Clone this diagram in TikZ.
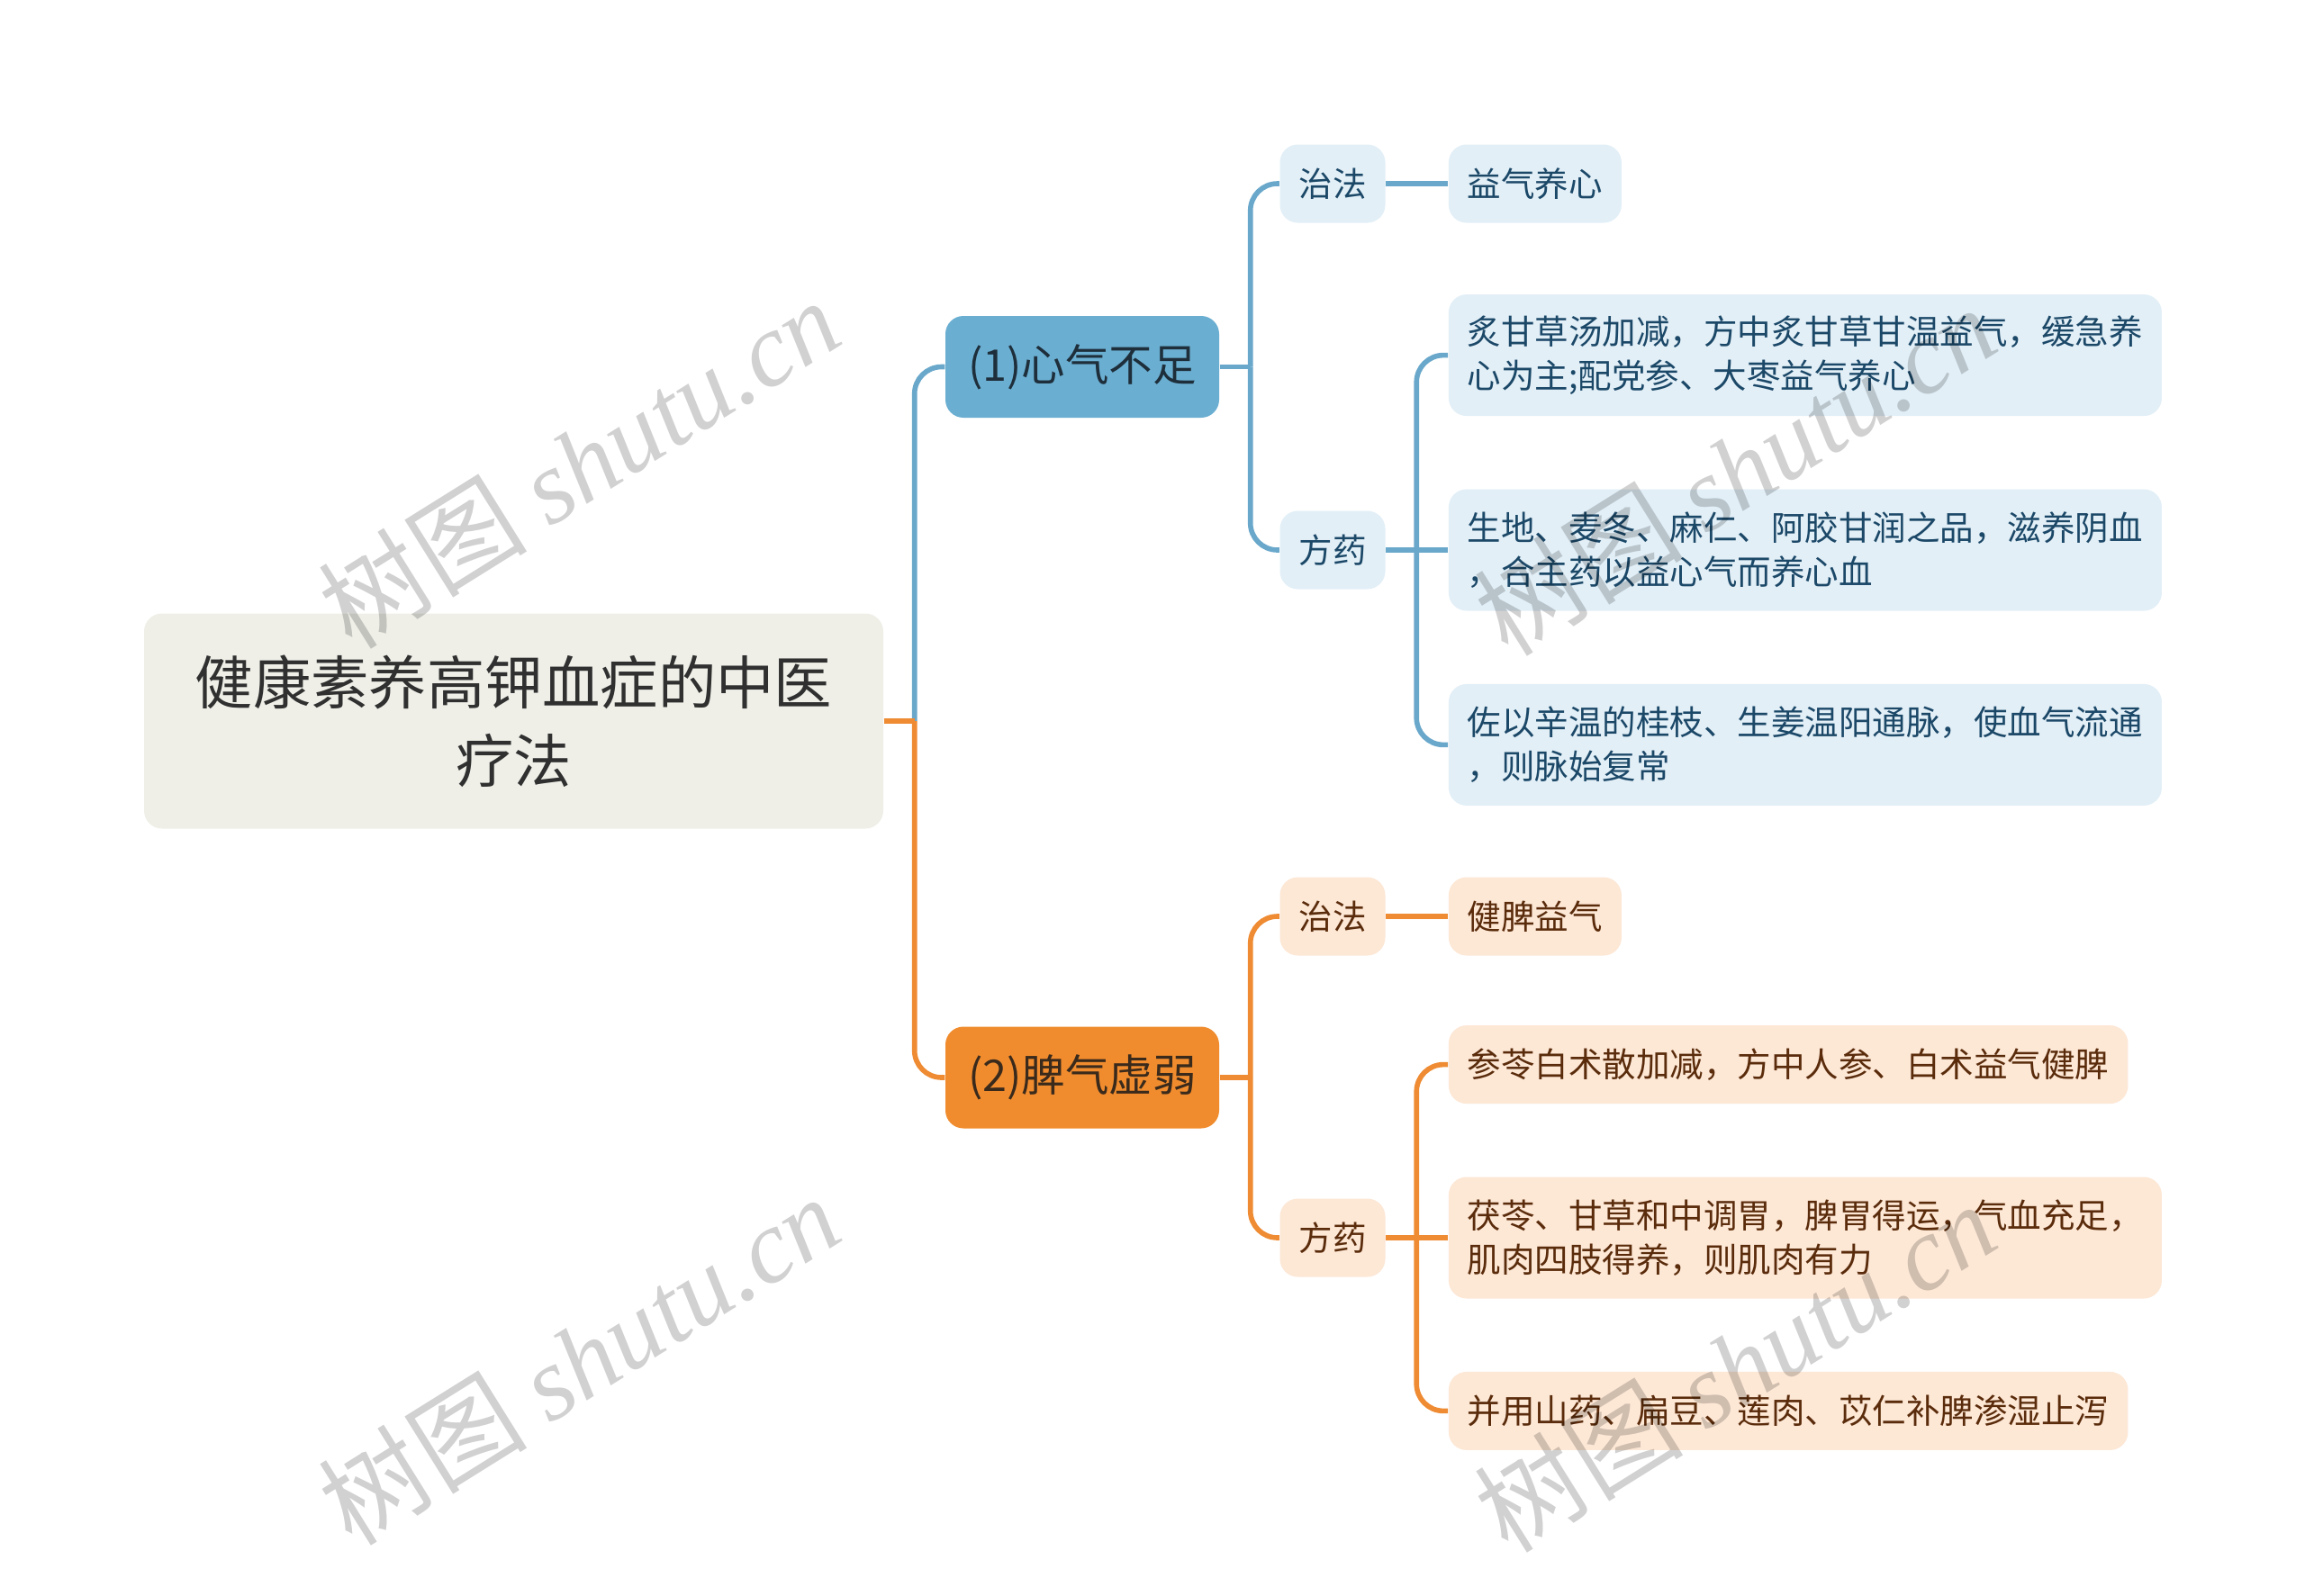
\documentclass[tikz,border=0pt]{standalone}
\usepackage{fontspec}
\setmainfont{Noto Sans CJK SC}
\newfontfamily\wmlatin{Liberation Serif}
\usetikzlibrary{positioning}

\definecolor{rootfill}{HTML}{EFEFE8}
\definecolor{roottext}{HTML}{303030}
\definecolor{bluehubfill}{HTML}{6AAED1}
\definecolor{bluehubtext}{HTML}{1E2E3A}
\definecolor{blueleaffill}{HTML}{E2EFF7}
\definecolor{blueleaftext}{HTML}{1C4868}
\definecolor{bluewire}{HTML}{6AA8CB}
\definecolor{orangehubfill}{HTML}{F08C2E}
\definecolor{orangehubtext}{HTML}{3A2A1C}
\definecolor{orangeleaffill}{HTML}{FDE7D5}
\definecolor{orangeleaftext}{HTML}{5A2C0C}
\definecolor{orangewire}{HTML}{EE8B33}

\begin{document}
\begin{tikzpicture}[
    node distance=0.69cm,
    rootbox/.style={rectangle, rounded corners=0.2cm, fill=rootfill, text=roottext, minimum width=8.21cm, minimum height=2.39cm, align=center, font=\fontsize{18.3}{24.6}\selectfont},
    hub/.style={rectangle, rounded corners=0.2cm, minimum width=3.04cm, minimum height=1.13cm, font=\fontsize{13.8}{16}\selectfont},
    bluehub/.style={hub, fill=bluehubfill, text=bluehubtext},
    orangehub/.style={hub, fill=orangehubfill, text=orangehubtext},
    leaf/.style={rectangle, rounded corners=0.2cm, inner xsep=0.21cm, inner ysep=0.1cm, minimum height=0.87cm, align=left, font=\fontsize{10.67}{13.9}\selectfont},
    blueleaf/.style={leaf, fill=blueleaffill, text=blueleaftext},
    orangeleaf/.style={leaf, fill=orangeleaffill, text=orangeleaftext},
    tall/.style={minimum height=1.35cm},
    bwire/.style={draw=bluewire, line width=1.6pt},
    owire/.style={draw=orangewire, line width=1.6pt},
    elbow/.style={rounded corners=0.3cm},
    wmark/.style={text=black, text opacity=0.18, rotate=32, font=\fontsize{33}{36}\selectfont}
]
    \fill[white] (0,0) rectangle (25.6,-17.72);
    \useasboundingbox (0,0) rectangle (25.6,-17.72);

    % Root and the two branches
    \node[rootbox] (root) at (5.705,-8.01) {健康素养高钾血症的中医\\疗法};
    \node[bluehub] (heart) at (12.02,-4.075) {(1)心气不足};
    \node[orangehub] (spleen) at (12.02,-11.97) {(2)脾气虚弱};

    % Branch 1
    \node[blueleaf] (hzf) at (14.80,-2.04) {治法};
    \node[blueleaf] (hfy) at (14.80,-6.11) {方药};
    \node[blueleaf, right=of hzf] (hzf1) {益气养心};
    \node[blueleaf, tall, right=of hfy] (hfy2) {生地、麦冬、麻仁、阿胶甘润之品，滋养阴血\\，合主药以益心气而养心血};
    \node[blueleaf, tall, above=0.8cm of hfy2.north west, anchor=south west] (hfy1) {炙甘草汤加减，方中炙甘草甘温益气，缓急养\\心为主;配党参、大枣益气养心};
    \node[blueleaf, tall, below=0.8cm of hfy2.south west, anchor=north west] (hfy3) {佐以辛温的桂枝、生姜温阳通脉，使血气流通\\，则脉始复常};

    % Branch 2
    \node[orangeleaf] (szf) at (14.80,-10.18) {治法};
    \node[orangeleaf] (sfy) at (14.80,-13.75) {方药};
    \node[orangeleaf, right=of szf] (szf1) {健脾益气};
    \node[orangeleaf, tall, right=of sfy] (sfy2) {茯苓、甘草和中调胃，脾胃得运，气血充足，\\肌肉四肢得养，则肌肉有力};
    \node[orangeleaf, above=0.8cm of sfy2.north west, anchor=south west] (sfy1) {参苓白术散加减，方中人参、白术益气健脾};
    \node[orangeleaf, below=0.8cm of sfy2.south west, anchor=north west] (sfy3) {并用山药、扁豆、莲肉、苡仁补脾渗湿止泻};

    % Wires
    \coordinate[right=0.34cm of root.east] (rj);
    \draw[bwire, elbow] (rj) |- (heart.west);
    \draw[owire, elbow] (rj) |- (spleen.west);
    \draw[owire] (root.east) -- (rj);

    \coordinate[right=0.34cm of heart.east] (hj);
    \draw[bwire] (heart.east) -- (hj);
    \draw[bwire, elbow] (hj) |- (hzf.west);
    \draw[bwire, elbow] (hj) |- (hfy.west);
    \draw[bwire] (hzf) -- (hzf1);
    \coordinate[right=0.34cm of hfy.east] (hfj);
    \draw[bwire] (hfy.east) -- (hfy2.west);
    \foreach \n in {hfy1,hfy3}
        \draw[bwire, elbow] (hfj) |- (\n.west);

    \coordinate[right=0.34cm of spleen.east] (sj);
    \draw[owire] (spleen.east) -- (sj);
    \draw[owire, elbow] (sj) |- (szf.west);
    \draw[owire, elbow] (sj) |- (sfy.west);
    \draw[owire] (szf) -- (szf1);
    \coordinate[right=0.34cm of sfy.east] (sfj);
    \draw[owire] (sfy.east) -- (sfy2.west);
    \foreach \n in {sfy1,sfy3}
        \draw[owire, elbow] (sfj) |- (\n.west);

    % Watermarks
    \foreach \x/\y [count=\i] in {6.43/-5.14, 6.43/-15.10, 19.27/-5.22, 19.27/-15.18}
        \node[wmark] (wm\i) at (\x,\y) {树图 {\wmlatin\itshape shutu.cn}};
\end{tikzpicture}
\end{document}
